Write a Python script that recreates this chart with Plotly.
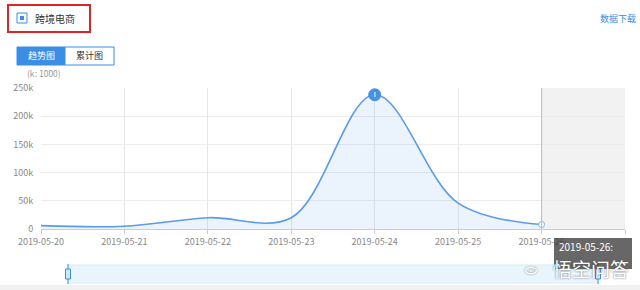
import plotly.graph_objects as go

# ---- data ----
dates = ["2019-05-20", "2019-05-21", "2019-05-22", "2019-05-23",
         "2019-05-24", "2019-05-25", "2019-05-26"]
values = [6000, 5000, 20000, 20000, 238000, 46000, 8000]
x_end = "2019-05-27"
y_ticks = [0, 50000, 100000, 150000, 200000, 250000]
y_labels = ["0", "50k", "100k", "150k", "200k", "250k"]
series_name = "跨境电商"
unit_note = "(k: 1000)"
tooltip_text = "2019-05-26:"

W, H = 640, 290
L, R, T, B = 41, 15, 88, 61
LINE = "#5b9be8"
BLUE = "#3a8ee6"


def px(x):
    return (x - L) / (W - L - R)


def py(y):
    return (H - B - y) / (H - T - B)


fig = go.Figure()
fig.add_trace(go.Scatter(
    x=dates, y=values, mode="lines",
    line=dict(color=LINE, width=1.6, shape="spline", smoothing=1.0),
    fill="tozeroy", fillcolor="rgba(91,155,232,0.12)",
    hoverinfo="skip", showlegend=False))

# peak marker
imax = values.index(max(values))
fig.add_trace(go.Scatter(
    x=[dates[imax]], y=[values[imax]], mode="markers+text",
    marker=dict(size=12, color="#4a90e2", line=dict(color="#4a90e2", width=1)),
    text=["ı"], textposition="middle center",
    textfont=dict(color="white", size=9, family="DejaVu Sans"),
    hoverinfo="skip", showlegend=False))
# last point marker
fig.add_trace(go.Scatter(
    x=[dates[-1]], y=[values[-1]], mode="markers",
    marker=dict(size=6, color="white", line=dict(color="#7fb3ee", width=1)),
    hoverinfo="skip", showlegend=False))

shapes = []
# grey shaded future region
shapes.append(dict(type="rect", xref="x", yref="y", x0=dates[-1], x1=x_end,
                   y0=0, y1=y_ticks[-1], fillcolor="#f2f2f2", line=dict(width=0),
                   layer="below"))
shapes.append(dict(type="line", xref="x", yref="paper", x0=dates[-1], x1=dates[-1],
                   y0=0, y1=1, line=dict(color="#bdbdbd", width=1)))
# red box around legend
shapes.append(dict(type="rect", xref="paper", yref="paper",
                   x0=px(8), x1=px(90), y0=py(32), y1=py(5),
                   line=dict(color="#e02424", width=2)))
# checkbox
shapes.append(dict(type="rect", xref="paper", yref="paper",
                   x0=px(17), x1=px(27), y0=py(23), y1=py(13),
                   line=dict(color=BLUE, width=1), fillcolor="white"))
shapes.append(dict(type="rect", xref="paper", yref="paper",
                   x0=px(20), x1=px(24), y0=py(20), y1=py(16),
                   line=dict(width=0), fillcolor=BLUE))
# buttons
shapes.append(dict(type="rect", xref="paper", yref="paper",
                   x0=px(17), x1=px(65), y0=py(65), y1=py(47),
                   line=dict(color=BLUE, width=1), fillcolor=BLUE))
shapes.append(dict(type="rect", xref="paper", yref="paper",
                   x0=px(65), x1=px(114), y0=py(65), y1=py(47),
                   line=dict(color=BLUE, width=1), fillcolor="white"))
# data-zoom slider
shapes.append(dict(type="rect", xref="paper", yref="paper",
                   x0=px(68), x1=px(598), y0=py(283), y1=py(265),
                   line=dict(color="#d6ecf8", width=1), fillcolor="#e8f5fd"))
for hx in (68, 598):
    shapes.append(dict(type="line", xref="paper", yref="paper",
                       x0=px(hx), x1=px(hx), y0=py(284), y1=py(264),
                       line=dict(color=BLUE, width=1)))
    shapes.append(dict(type="rect", xref="paper", yref="paper",
                       x0=px(hx - 2.5), x1=px(hx + 2.5), y0=py(279), y1=py(269),
                       line=dict(color=BLUE, width=1), fillcolor="#cfe6fb"))
# bottom grey strip
shapes.append(dict(type="rect", xref="paper", yref="paper",
                   x0=px(0), x1=px(W), y0=py(H), y1=py(285),
                   line=dict(width=0), fillcolor="#f1f1f1"))
# tooltip box
shapes.append(dict(type="rect", xref="paper", yref="paper",
                   x0=px(554), x1=px(632), y0=py(269), y1=py(238),
                   line=dict(width=0), fillcolor="rgba(60,60,60,0.78)"))

annotations = [
    dict(text=series_name, x=px(33), y=py(18.5), xref="paper", yref="paper",
         xanchor="left", yanchor="middle", showarrow=False,
         font=dict(size=10, color="#333")),
    dict(text="数据下载", x=px(638), y=py(18.5), xref="paper", yref="paper",
         xanchor="right", yanchor="middle", showarrow=False,
         font=dict(size=9, color=BLUE)),
    dict(text="趋势图", x=px(41), y=py(56), xref="paper", yref="paper",
         xanchor="center", yanchor="middle", showarrow=False,
         font=dict(size=9, color="white")),
    dict(text="累计图", x=px(89.5), y=py(56), xref="paper", yref="paper",
         xanchor="center", yanchor="middle", showarrow=False,
         font=dict(size=9, color="#333")),
    dict(text=unit_note, x=px(25), y=py(73.5), xref="paper", yref="paper",
         xanchor="left", yanchor="middle", showarrow=False,
         font=dict(size=8.5, color="#999")),
    dict(text=tooltip_text, x=px(557), y=py(246), xref="paper", yref="paper",
         xanchor="left", yanchor="middle", showarrow=False,
         font=dict(size=10, color="white")),
    dict(text="悟空问答", x=px(631), y=py(268), xref="paper", yref="paper",
         xanchor="right", yanchor="middle", showarrow=False,
         font=dict(size=19, color="white", family="Noto Sans CJK SC",
                   shadow="0px 0px 2px #555")),
    dict(text="ᯣ", x=px(540), y=py(268), xref="paper", yref="paper",
         xanchor="right", yanchor="middle", showarrow=False,
         font=dict(size=14, color="white", shadow="0px 0px 2px #777")),
]

fig.update_layout(
    width=W, height=H,
    margin=dict(l=L, r=R, t=T, b=B, pad=0),
    paper_bgcolor="white", plot_bgcolor="white",
    font=dict(family="Noto Sans CJK SC, Noto Sans, sans-serif", color="#888", size=9),
    shapes=shapes, annotations=annotations,
    xaxis=dict(type="date", range=[dates[0], x_end], dtick=86400000,
               tickformat="%Y-%m-%d", tick0=dates[0],
               showgrid=True, gridcolor="#e6e6e6", gridwidth=1,
               showline=True, linecolor="#cccccc", ticks="outside",
               ticklen=4, tickcolor="#cccccc",
               tickfont=dict(size=9, color="#888"), zeroline=False,
               fixedrange=True),
    yaxis=dict(range=[0, y_ticks[-1]], tickvals=y_ticks, ticktext=y_labels,
               showgrid=True, gridcolor="#ececec", gridwidth=1,
               zeroline=False, showline=False, ticks="outside",
               ticklen=5, tickcolor="rgba(0,0,0,0)",
               tickfont=dict(size=9, color="#888"), fixedrange=True),
)

fig.write_html("out.html")
